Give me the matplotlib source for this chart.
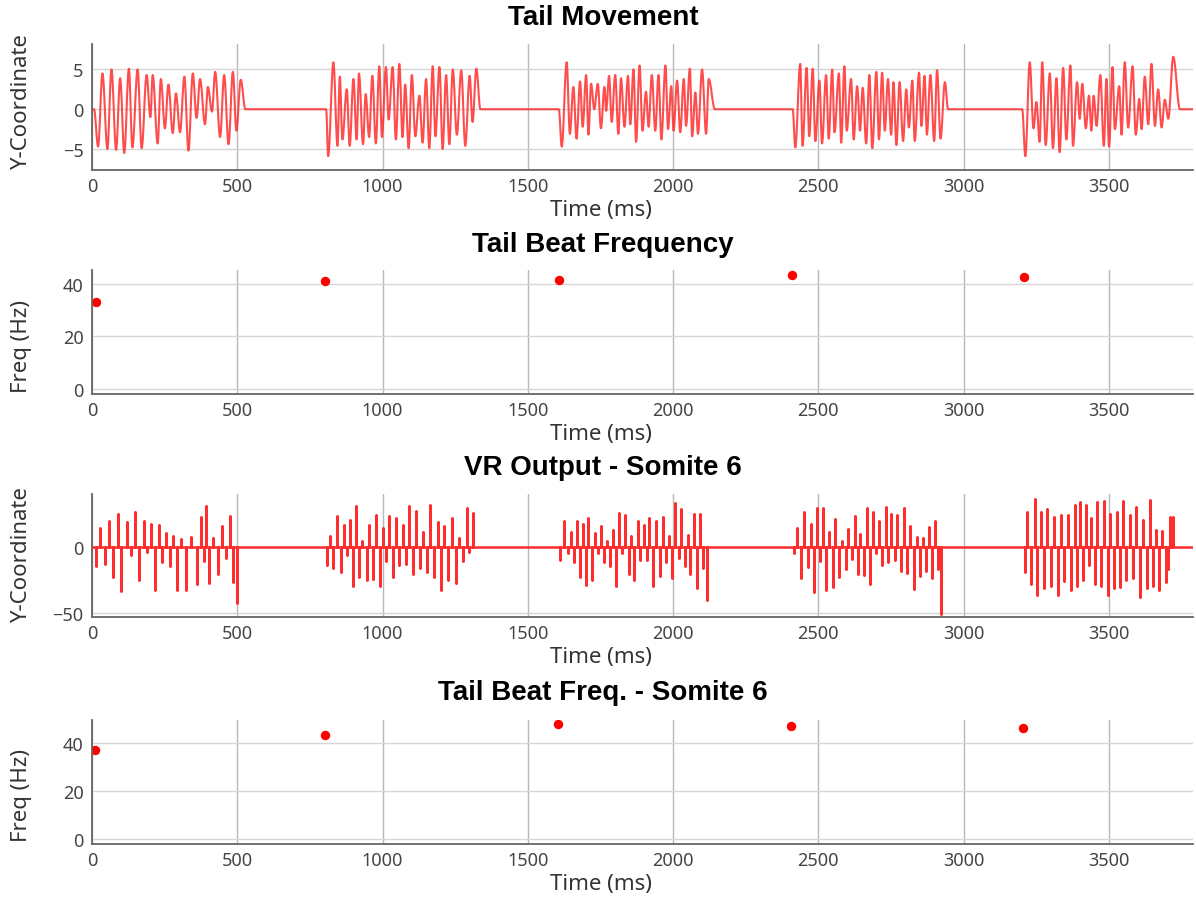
import numpy as np
import matplotlib.pyplot as plt
from matplotlib.path import Path
from matplotlib.patches import PathPatch

plt.rcParams['font.family'] = ['Noto Sans', 'DejaVu Sans']

T_END = 3790

# tail y-coordinate: turning points of each swim bout
tail_t1 = [0, 7, 21, 36, 53, 67, 83, 97, 111, 127, 139, 157, 171, 188, 201, 209, 226, 237, 251, 263,
           278, 289, 303, 318, 332, 347, 360, 372, 389, 399, 413, 424, 441, 455, 470, 485, 497, 512, 528]
tail_y1 = [0, 0, -4.7, 4.5, -5.0, 5.0, -5.1, 3.9, -5.5, 5.1, -4.8, 5.0, -4.9, 4.3, -1.0, 4.3, -4.3, 3.8, -2.4, 3.1,
           -3.0, 2.0, -2.9, 4.1, -5.2, 4.5, -1.1, 3.8, -1.9, 2.8, -0.3, 4.7, -3.5, 4.3, -4.4, 4.7, -2.7, 3.7, 0]
tail_t2 = [806, 813, 831, 845, 853, 862, 877, 887, 900, 911, 919, 933, 942, 954, 965, 977, 989, 998, 1012, 1021,
           1035, 1046, 1058, 1069, 1078, 1090, 1101, 1113, 1127, 1138, 1150, 1161, 1173, 1182, 1196, 1207, 1219,
           1230, 1242, 1256, 1271, 1285, 1300, 1310, 1323, 1337]
tail_y2 = [0, -5.9, 5.9, -4.6, 4.1, -3.8, 2.5, -4.6, 3.8, -3.8, 4.5, -4.4, 1.9, -3.5, 4.2, -4.3, 5.4, -3.5, 5.3, -1.3,
           5.3, -3.8, 5.7, -3.5, 3.1, -4.9, 4.3, -3.4, 1.7, -4.2, 3.8, -4.9, 5.4, -3.4, 5.3, -5.0, 4.3,
           -4.4, 5.0, -3.2, 4.9, -4.6, 4.2, -1.6, 5.1, 0]
tail_t3 = [1607, 1617, 1634, 1645, 1657, 1668, 1680, 1689, 1701, 1709, 1718, 1729, 1741, 1752, 1764, 1770, 1780,
           1789, 1801, 1812, 1821, 1833, 1845, 1853, 1864, 1873, 1885, 1895, 1907, 1916, 1927, 1939, 1950, 1960,
           1974, 1983, 1994, 2002, 2014, 2025, 2037, 2045, 2058, 2066, 2077, 2086, 2100, 2114, 2123, 2144]
tail_y3 = [0, -4.7, 5.9, -3.1, 2.8, -3.7, 3.5, -2.2, 4.3, -3.2, 3.2, 0.0, 3.2, -2.4, 2.8, -0.2, 4.2,
           -1.6, 4.3, -3.1, 3.9, -2.2, 4.2, -1.9, 5.0, -4.1, 5.5, -2.7, 2.2, -2.2, 4.3, -2.7, 4.3, -3.8,
           5.5, -2.5, 2.9, -2.7, 3.6, -2.9, 3.8, -2.1, 5.1, -3.4, 2.1, -3.1, 5.0, -3.1, 3.8, 0]
tail_t4 = [2412, 2421, 2438, 2446, 2460, 2469, 2481, 2490, 2504, 2513, 2527, 2536, 2548, 2556, 2571, 2579, 2590,
           2598, 2613, 2622, 2634, 2644, 2653, 2665, 2676, 2686, 2700, 2709, 2720, 2729, 2740, 2751, 2759, 2769,
           2780, 2792, 2803, 2812, 2824, 2832, 2847, 2855, 2866, 2874, 2886, 2899, 2909, 2921, 2936, 2947]
tail_y4 = [0, -4.8, 5.7, -4.6, 5.2, -3.4, 5.1, -4.0, 3.6, -4.3, 4.3, -3.7, 5.0, -2.9, 4.5, -4.2, 5.4,
           -2.7, 3.8, -3.8, 2.9, -2.7, 2.7, -4.3, 4.3, -4.9, 4.7, -3.8, 4.6, -2.7, 3.8, -3.2, 3.4, -4.5,
           3.4, -4.0, 2.5, -2.3, 3.6, -4.0, 4.6, -2.1, 4.2, -3.2, 4.3, -4.0, 4.9, -3.7, 3.4, 0]
tail_t5 = [3202, 3213, 3228, 3241, 3251, 3262, 3271, 3283, 3297, 3308, 3320, 3331, 3343, 3354, 3368, 3377, 3391,
           3400, 3409, 3421, 3432, 3440, 3448, 3458, 3471, 3483, 3492, 3501, 3513, 3521, 3536, 3544, 3555, 3567,
           3582, 3593, 3605, 3613, 3624, 3636, 3647, 3659, 3670, 3682, 3693, 3705, 3722, 3745]
tail_y5 = [0, -5.9, 5.9, -2.4, 0.9, -4.1, 5.9, -4.5, 4.5, -4.9, 3.9, -5.4, 5.2, -3.8, 5.5, -4.6, 3.4,
           -1.2, 3.2, -2.4, 1.7, -2.7, 1.7, -2.1, 4.3, -4.6, 3.8, -4.7, 5.3, -2.5, 2.9, -3.2, 5.9, -2.3,
           5.4, -3.2, 1.3, -2.5, 4.1, -1.9, 5.7, -2.1, 2.5, -2.3, 1.2, -1.2, 6.6, 0]

# ventral root spikes, somite 6
vr_t1 = [15, 29, 44, 59, 73, 88, 101, 119, 133, 148, 163, 179, 190, 203, 217, 230, 242, 255, 268, 280,
         292, 307, 323, 341, 361, 376, 387, 393, 404, 418, 433, 447, 461, 476, 485, 499]
vr_v1 = [-14.5, 14.5, -12.7, 20.3, -22.8, 25.4, -33.0, 19.0, -5.8, 27.2, -24.6, 20.3, -3.3, 17.8, -32.2, 17.0,
         -11.4, 10.9, -14.5, 8.9, -32.2, 6.3, -32.2, 7.6, -27.9, 22.8, -10.2, 31.7, -27.4, 6.9, -20.3, 16.0,
         -8.4, 24.1, -26.1, -42.4]
vr_t2 = [808, 819, 831, 845, 856, 868, 877, 887, 899, 908, 919, 931, 945, 954, 968, 979, 991, 1002, 1012, 1023,
         1035, 1046, 1058, 1069, 1081, 1092, 1106, 1117, 1129, 1141, 1152, 1164, 1176, 1190, 1202, 1213, 1225,
         1240, 1253, 1265, 1276, 1290, 1299, 1313]
vr_v2 = [-13.5, 8.9, -16.0, 23.6, -18.5, 17.0, -5.8, 21.1, -29.2, 31.2, -22.8, 5.1, -24.6, 17.0, -24.1, 24.6,
         -29.7, 14.5, -10.2, 23.6, -22.8, 22.1, -13.5, 17.0, -12.7, 31.2, -20.3, 27.9, -16.0, 11.4, -18.5, 32.2,
         -22.8, 19.5, -32.2, 16.0, -24.6, 22.1, -27.2, 6.9, -10.2, 29.7, -3.3, 26.1]
vr_t3 = [1611, 1625, 1637, 1648, 1659, 1668, 1680, 1689, 1701, 1709, 1720, 1732, 1741, 1752, 1764, 1772, 1783,
         1795, 1804, 1815, 1824, 1835, 1847, 1856, 1867, 1878, 1887, 1899, 1910, 1919, 1931, 1942, 1954, 1964,
         1976, 1987, 1996, 2008, 2019, 2029, 2040, 2051, 2060, 2071, 2083, 2092, 2102, 2117]
vr_v3 = [-9.4, 20.3, -4.3, 11.4, -10.9, 20.3, -22.8, 17.8, -28.7, 22.1, -24.6, 10.9, -4.3, 16.5, -11.4, 5.1,
         -14.5, 13.5, -29.7, 26.1, -4.3, 24.6, -20.3, 8.9, -24.6, 20.3, -9.4, 17.0, -9.4, 22.1, -29.7, 20.3,
         -21.6, 22.8, -10.9, 8.9, -23.6, 33.8, -8.4, 29.2, -14.0, 9.4, -20.3, 25.4, -31.2, 25.4, -16.0, -39.8]
vr_t4 = [2415, 2427, 2440, 2452, 2463, 2475, 2484, 2495, 2506, 2515, 2527, 2538, 2550, 2559, 2571, 2582, 2594,
         2604, 2615, 2625, 2636, 2645, 2657, 2667, 2679, 2688, 2700, 2709, 2720, 2732, 2740, 2751, 2763, 2772,
         2784, 2795, 2805, 2817, 2828, 2840, 2849, 2861, 2870, 2881, 2893, 2903, 2913, 2924]
vr_v4 = [-4.3, 14.5, -23.6, 27.2, -15.2, 17.8, -33.8, 29.7, -10.2, 29.7, -32.2, 11.9, -30.5, 21.6, -22.8, 5.1,
         -16.5, 14.0, -8.9, 24.1, -20.3, 10.2, -21.1, 29.7, -27.9, 26.6, -4.3, 20.3, -13.5, 30.5, -10.9, 25.4,
         -9.4, 24.6, -17.8, 29.7, -19.5, 16.0, -31.7, 7.6, -22.1, 6.9, -17.8, 15.2, -23.6, 20.3, -16.5, -50.8]
vr_t5 = [3210, 3220, 3233, 3245, 3254, 3266, 3277, 3289, 3300, 3312, 3325, 3335, 3346, 3358, 3369, 3383, 3392,
         3400, 3412, 3423, 3431, 3440, 3452, 3461, 3472, 3484, 3498, 3506, 3518, 3529, 3538, 3549, 3561, 3572,
         3584, 3595, 3607, 3618, 3630, 3641, 3653, 3661, 3672, 3685, 3697, 3705, 3710, 3722]
vr_v5 = [-19.0, 27.2, -27.9, 36.8, -36.3, 26.6, -31.2, 29.2, -29.2, 22.8, -36.3, 24.6, -25.4, 24.6, -32.2, 32.2,
         -29.7, 34.8, -24.6, 32.2, -13.5, 22.1, -27.9, 34.8, -29.7, 35.5, -36.3, 25.4, -31.2, 26.6, -30.5, 35.5,
         -24.6, 24.6, -23.6, 30.5, -38.1, 21.1, -31.2, 36.3, -29.7, 13.5, -32.2, 12.7, -26.1, -16.5, 22.8, 22.8]

# tail beat frequency per bout
freq_t = [14, 802, 1607, 2409, 3207]
freq_hz = [33.1, 41.1, 41.5, 43.4, 42.7]
somite_freq_t = [10, 802, 1604, 2405, 3204]
somite_freq_hz = [37.1, 43.3, 47.9, 47.1, 46.3]

RED = '#ff2e2e'
W, H = 1196, 904


def panel(fig, top, bottom):
    ax = fig.add_axes([92 / W, 1 - bottom / H, 1101 / W, (bottom - top) / H])
    ax.set_xlim(0, T_END)
    ax.set_xticks(np.arange(0, 3501, 500))
    for s in ('top', 'right'):
        ax.spines[s].set_visible(False)
    for s in ('left', 'bottom'):
        ax.spines[s].set_color('#666666')
        ax.spines[s].set_linewidth(1.3)
    ax.grid(axis='x', color='#b8b8b8', lw=1)
    ax.grid(axis='y', color='#d6d6d6', lw=1)
    ax.set_axisbelow(True)
    ax.tick_params(length=0, labelsize=13, labelcolor='#444444')
    ax.tick_params(axis='x', pad=5)
    ax.tick_params(axis='y', pad=6)
    return ax


def label(ax, title, ylabel, top, bottom, ylab_frac):
    h = bottom - top
    ax.set_title(title, x=(603 - 92) / 1101, y=1 + (top - title_y[title]) / h,
                 va='center', pad=0, fontsize=20, fontweight='bold',
                 family=['Liberation Sans', 'DejaVu Sans'])
    ax.set_xlabel('Time (ms)', fontsize=16, color='#333333')
    ax.xaxis.label.set_va('center')
    ax.xaxis.set_label_coords((601 - 92) / 1101, -40 / h)
    ax.set_ylabel(ylabel, fontsize=16, color='#333333')
    ax.yaxis.label.set_va('center')
    ax.yaxis.set_label_coords((22 - 92) / 1101, ylab_frac)


def smooth_path(t, y, k=0.36):
    # cubic segments with flat tangents at each turning point
    verts = [(t[0], y[0])]
    codes = [Path.MOVETO]
    for i in range(1, len(t)):
        dt = t[i] - t[i - 1]
        verts += [(t[i - 1] + k * dt, y[i - 1]), (t[i] - k * dt, y[i]), (t[i], y[i])]
        codes += [Path.CURVE4] * 3
    return Path(verts, codes)


title_y = {'Tail Movement': 18, 'Tail Beat Frequency': 245,
           'VR Output - Somite 6': 468, 'Tail Beat Freq. - Somite 6': 693}

fig = plt.figure(figsize=(W / 100, H / 100), dpi=100)

# tail movement trace
tail_t = np.concatenate([tail_t1, tail_t2, tail_t3, tail_t4, tail_t5, [T_END]])
tail_y = np.concatenate([tail_y1, tail_y2, tail_y3, tail_y4, tail_y5, [0]])
ax1 = panel(fig, 45, 170.7)
ax1.add_patch(PathPatch(smooth_path(tail_t, tail_y), fill=False, edgecolor=RED,
                        lw=1.5, alpha=0.85, joinstyle='round'))
ax1.set_ylim(-7.6, 8.2)
ax1.set_yticks([-5, 0, 5])
label(ax1, 'Tail Movement', 'Y-Coordinate', 45, 170.7, 0.55)

# tail beat frequency
ax2 = panel(fig, 270.7, 395)
ax2.plot(freq_t, freq_hz, 'o', color='#ff0000', ms=6.8, mec='none')
ax2.set_ylim(-1.9, 45.4)
ax2.set_yticks([0, 20, 40])
label(ax2, 'Tail Beat Frequency', 'Freq (Hz)', 270.7, 395, 0.39)

# ventral root output, each spike drawn from the baseline and back
spk_t = np.concatenate([vr_t1, vr_t2, vr_t3, vr_t4, vr_t5])
spk_v = np.concatenate([vr_v1, vr_v2, vr_v3, vr_v4, vr_v5])
vr_t = np.concatenate([[0], np.repeat(spk_t, 3), [T_END]])
vr_y = np.concatenate([[0], np.column_stack([np.zeros_like(spk_v), spk_v, np.zeros_like(spk_v)]).ravel(), [0]])
ax3 = panel(fig, 495, 617.7)
ax3.plot(vr_t, vr_y, color=RED, lw=1.8)
ax3.set_ylim(-52.8, 40.6)
ax3.set_yticks([-50, 0])
label(ax3, 'VR Output - Somite 6', 'Y-Coordinate', 495, 617.7, 0.51)

# somite 6 frequency
ax4 = panel(fig, 720.7, 845)
ax4.plot(somite_freq_t, somite_freq_hz, 'o', color='#ff0000', ms=6.8, mec='none')
ax4.set_ylim(-2.1, 49.7)
ax4.set_yticks([0, 20, 40])
label(ax4, 'Tail Beat Freq. - Somite 6', 'Freq (Hz)', 720.7, 845, 0.40)

fig.savefig('out.png', dpi=100)
